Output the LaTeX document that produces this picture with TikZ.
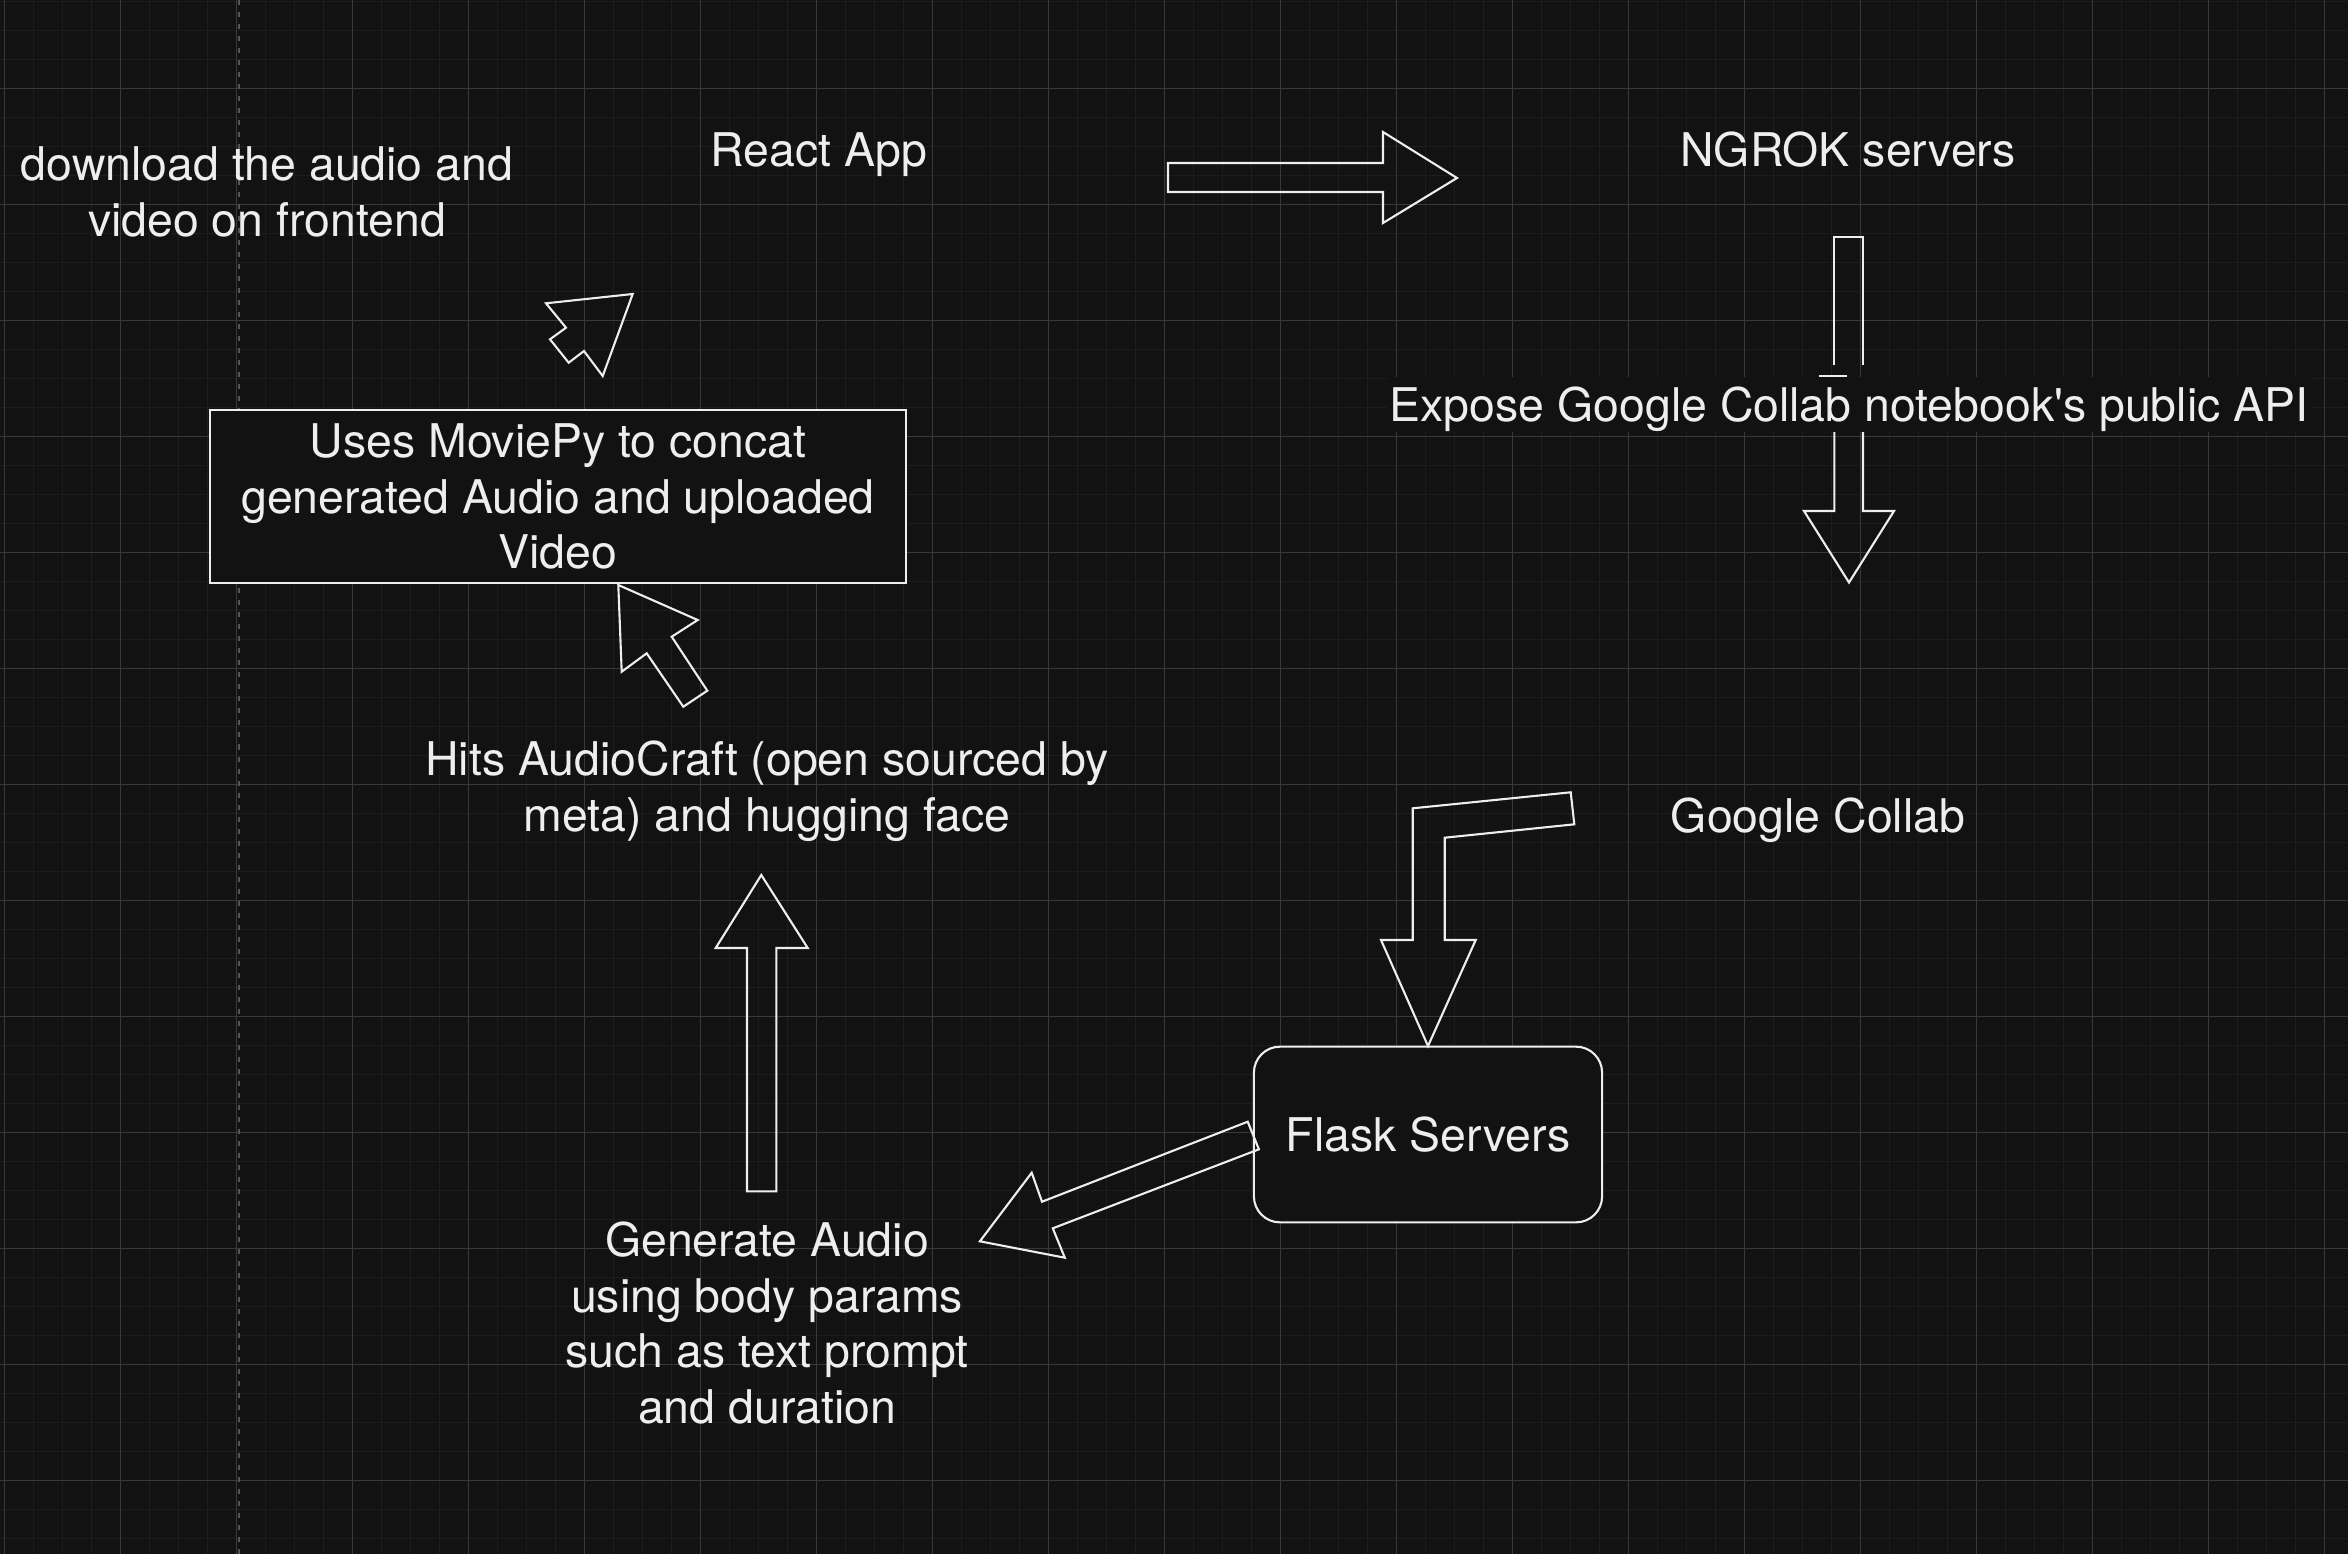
\documentclass[tikz,border=0pt]{standalone}
\usepackage{fontspec}
\setmainfont{TeX Gyre Heros}
\usepackage{tikz}

\definecolor{canvas}{HTML}{121212}
\definecolor{gridminor}{HTML}{1D1D1D}
\definecolor{gridmajor}{HTML}{393939}
\definecolor{guide}{HTML}{555555}
\definecolor{ink}{HTML}{EEEEEE}

\begin{document}
\begin{tikzpicture}[x=0.01cm, y=-0.01cm, line join=miter,
	label/.style={text=ink, font=\fontsize{13.2}{15.8}\selectfont, align=center, inner sep=0pt},
	outline/.style={draw=ink, line width=0.021cm},
	box/.style={label, outline, fill=canvas}]
	\useasboundingbox (0,0) rectangle (2348,1554);
	\fill [canvas] (0,0) rectangle (2348,1554);
	% Grid %
	\foreach \k in {0,...,80} \draw [gridminor, line width=0.015cm] ({4.5+29*\k},0) -- ++ (0,1554);
	\foreach \k in {0,...,53} \draw [gridminor, line width=0.015cm] (0,{1.3+29*\k}) -- ++ (2348,0);
	\foreach \k in {0,...,20} \draw [gridmajor, line width=0.01cm] ({4.5+116*\k},0) -- ++ (0,1554);
	\foreach \k in {0,...,12} \draw [gridmajor, line width=0.01cm] (0,{88.3+116*\k}) -- ++ (2348,0);
	\draw [guide, line width=0.02cm, dash pattern=on 0.05cm off 0.07cm] (238.5,0) -- ++ (0,1554);
	% Boxes %
	\node [box, minimum width=6.96cm, minimum height=1.733cm] (moviepy) at (558,496.7) {Uses MoviePy to concat\\generated Audio and uploaded\\Video};
	\node [box, rounded corners=0.26cm, minimum width=3.48cm, minimum height=1.756cm] (flask) at (1428,1134.5) {Flask Servers};
	% Text %
	\node [label] (download) at (267,192) {download the audio and\\video on frontend};
	\node [label, anchor=base] (react) at (819,166) {React App};
	\node [label, anchor=base] (ngrok) at (1848,166) {NGROK servers};
	\node [label, anchor=base] (collab) at (1818,832) {Google Collab};
	\node [label] (hits) at (767,791.4) {Hits AudioCraft (open sourced by\\meta) and hugging face};
	\node [label] (generate) at (767,1323) {Generate Audio\\using body params\\such as text prompt\\and duration};
	% Block Arrows %
	\draw [outline] (1168,163) -- ++ (215,0) -- ++ (0,-31) -- (1457,178) -- (1383,223) -- ++ (0,-31) -- ++ (-215,0) -- cycle;
	\draw [outline] (1834.3,365) -- (1834.3,236.7) -- (1863,236.7) -- (1863,365);
	\draw [outline] (1863,432) -- (1863,511) -- (1894,511) -- (1849,582.5) -- (1804,511) -- (1834.3,511) -- (1834.3,432);
	\node [label, fill=canvas, anchor=base, inner xsep=0.03cm, text height=0.443cm, text depth=0.107cm] (expose) at (1849,421) {Expose Google Collab notebook\textquotesingle s public API};
	\draw [outline] (1819,376) -- (1847,376);
	\draw [outline] (1570.7,792.3) -- (1574.3,824.3) -- (1444.7,837.7) -- (1444.7,940) -- (1475.7,940) -- (1428,1046) -- (1381,940) -- (1412.7,940) -- (1412.7,808.3) -- cycle;
	\draw [outline] (1247.7,1121.7) -- (1258.9,1149.3) -- (1052.8,1228.3) -- (1064.8,1257.7) -- (979.9,1241.3) -- (1031.7,1172.7) -- (1042,1201.7) -- cycle;
	\draw [outline] (761.3,875) -- (807.7,948) -- (776.3,948) -- (776.3,1191.3) -- (747,1191.3) -- (747,948) -- (715.7,948) -- cycle;
	% Cursors %
	\draw [outline] (618.3,585) -- (697.7,620) -- (671.7,636.7) -- (707.3,690.7) -- (683.3,706.7) -- (646.7,653.3) -- (621.7,671.7) -- cycle;
	\draw [outline] (632.7,294) -- (546,303.3) -- (566,327.7) -- (550,339.3) -- (568.7,362.7) -- (584,351) -- (602.7,376) -- cycle;
\end{tikzpicture}
\end{document}
